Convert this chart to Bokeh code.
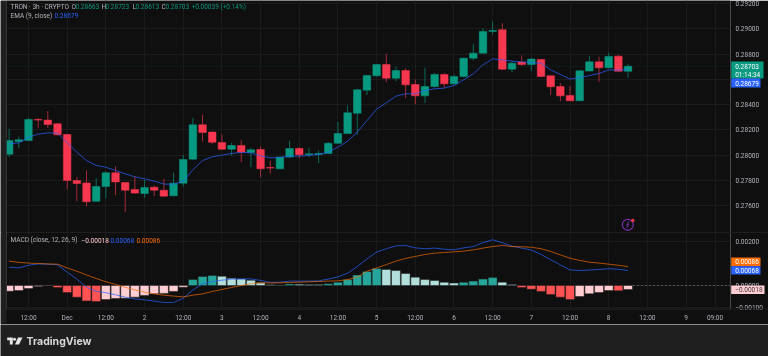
from bokeh.plotting import figure
from bokeh.layouts import column
from bokeh.models import Label, Span, FixedTicker, ColumnDataSource
from bokeh.embed import file_html
from bokeh.resources import INLINE
from bokeh.core.properties import value

# ---- data (prices in 1e-5 units) ----
bars = list(range(-2, 63))
opens = [28007,28108,28116,28282,28277,28248,28163,27799,27780,27635,27751,27860,27783,27728,27696,27746,27722,27678,27778,27968,
         28240,28182,28100,28047,28076,28021,28044,27902,27891,27984,28052,28005,28005,28013,28094,28171,28332,28514,28628,28717,
         28609,28670,28559,28469,28543,28638,28564,28622,28767,28807,28979,28992,28680,28736,28717,28757,28628,28543,28472,28430,
         28665,28738,28691,28783,28663]
highs = [28208,28147,28295,28295,28348,28253,28165,27825,27878,27817,27870,27910,27785,27833,27804,27757,27812,27862,28002,28295,
         28319,28190,28163,28097,28118,28058,28068,27957,27989,28116,28063,28060,28036,28102,28261,28393,28525,28632,28720,28802,
         28701,28686,28599,28691,28651,28651,28638,28770,28881,29005,29058,29045,28744,28789,28770,28760,28630,28570,28546,28670,
         28783,28778,28812,28794,28723]
lows = [27984,28055,28110,28216,28216,28155,27728,27635,27593,27630,27656,27683,27548,27695,27664,27675,27672,27675,27751,27965,
        28108,28087,28042,27997,27944,27904,27825,27854,27889,27976,27976,27984,27936,28010,28090,28168,28161,28475,28622,28577,
        28585,28451,28403,28411,28535,28535,28559,28617,28749,28805,28955,28678,28654,28707,28665,28617,28475,28427,28427,28427,
        28665,28580,28688,28662,28613]
closes = [28116,28121,28282,28277,28242,28161,27799,27775,27630,27751,27860,27788,27722,27699,27744,27722,27675,27778,27965,28240,
          28179,28102,28047,28076,28023,28042,27891,27897,27984,28052,28002,28010,28013,28094,28171,28335,28517,28630,28717,28609,
          28670,28556,28469,28543,28638,28564,28622,28767,28807,28979,28986,28680,28728,28717,28760,28622,28541,28469,28430,28667,
          28738,28691,28781,28663,28703]
ema = [28089,28097,28142,28166,28176,28174,28097,28023,27957,27918,27904,27878,27852,27828,27812,27794,27770,27770,27794,27883,
       27957,27986,27999,28013,28021,28018,27994,27978,27981,27992,27992,27997,28005,28023,28063,28110,28182,28274,28364,28414,
       28467,28485,28485,28512,28525,28530,28551,28596,28643,28715,28762,28754,28744,28738,28733,28728,28675,28638,28601,28614,
       28630,28646,28675,28672,28679]
macd = [83,80,92,98,97,94,61,29,-8,-26,-33,-42,-53,-61,-65,-71,-77,-77,-58,-20,
        8,17,24,29,30,30,23,14,15,20,20,20,21,29,39,56,86,121,152,167,
        180,182,171,167,170,165,162,171,177,195,208,194,179,170,161,141,117,94,71,68,
        70,73,76,74,68]
signal = [111,105,102,100,98,97,80,65,48,32,17,5,-8,-20,-30,-38,-44,-48,-52,-44,
          -38,-27,-18,-9,0,8,12,12,12,14,15,17,18,20,21,27,38,65,80,95,
          111,123,132,141,147,150,153,156,162,170,177,182,177,176,174,167,155,139,124,114,
          106,102,97,92,86]
hist = [-26,-23,-14,-5,-2,-9,-32,-53,-70,-73,-64,-59,-58,-53,-45,-38,-36,-27,-8,27,
        41,45,42,33,30,24,12,3,2,7,6,5,4,8,15,27,48,64,77,73,
        68,55,38,27,23,15,11,15,20,29,36,15,5,-9,-17,-27,-41,-53,-64,-50,
        -38,-32,-23,-24,-18]
x_ticks = [0,4,8,12,16,20,24,28,32,36,40,44,48,52,56,60,64,68,71]
x_labels = ["12:00","Dec","12:00","2","12:00","3","12:00","4","12:00","5","12:00","6","12:00","7","12:00","8","12:00","9","09:00"]
price_ticks = [0.292,0.290,0.288,0.286,0.284,0.282,0.280,0.278,0.276]
macd_ticks = [0.002,0.0,-0.001]
macd_tick_labels = ["0.00200","0.00000","\u22120.00100"]
tag_texts = ["0.28703","01:14:34","0.28679","0.00086","0.00068","\u22120.00018"]

BG = "#0f0f0f"; BAND = "#1f1f1f"; GRID = "#1b1b1b"; TXT = "#b2b5be"
UP = "#089981"; DOWN = "#f7374f"; BLUE = "#2962ff"; ORANGE = "#ff6d00"; PINK = "#ffcdd2"
FONT = "Roboto"; FS = "6.5px"

sc = 1e-5
X0, STEP = 28.0, 9.67          # pixel of bar 0, bar spacing
def xr(px): return (px - X0) / STEP
def base(h, yr, below):
    p = figure(width=768, height=h, frame_width=724, frame_height=(232 if not below else 77),
               x_range=(xr(6), xr(730)), y_range=yr, output_backend="svg", toolbar_location=None,
               min_border_left=6, min_border_right=38, min_border_top=0, min_border_bottom=(14 if below else 0),
               background_fill_color=BG, border_fill_color=BG, outline_line_color=None,
               x_axis_location=("below" if below else None), y_axis_location="right")
    p.xgrid.ticker = FixedTicker(ticks=x_ticks)
    p.xgrid.grid_line_color = GRID
    p.ygrid.grid_line_color = GRID
    ax = p.yaxis[0]
    ax.axis_line_color = None; ax.major_tick_line_color = None; ax.minor_tick_line_color = None
    ax.major_tick_out = 0; ax.major_tick_in = 0
    ax.major_label_text_color = TXT; ax.major_label_text_font = FONT; ax.major_label_text_font_size = FS
    ax.major_label_standoff = 5
    return p

def lbl(p, H, x, y, text, color, size=FS):
    p.add_layout(Label(x=x - 6, y=H - y, x_units="screen", y_units="screen", text=text, text_color=color,
                       text_font=FONT, text_font_size=size, text_baseline="middle"))

def pixel_fig(h, yr, bg, alpha):
    p = figure(width=768, height=h, frame_width=768, frame_height=h, x_range=(0, 768), y_range=yr,
               output_backend="svg", toolbar_location=None,
               min_border_left=0, min_border_right=0, min_border_top=0, min_border_bottom=0,
               background_fill_color=bg, background_fill_alpha=alpha, border_fill_color=bg, border_fill_alpha=alpha,
               outline_line_color=None, x_axis_location=None, y_axis_location=None)
    p.grid.visible = False
    p.frame_align = False
    return p

# ---- price pane ----
PS = 12633.0
p1 = base(232, (0.292 - 229/PS, 0.292 + 3/PS), False)
p1.yaxis[0].ticker = FixedTicker(ticks=price_ticks)
p1.yaxis[0].major_label_overrides = {t: f"{t:.5f}" for t in price_ticks}
p1.ygrid.ticker = FixedTicker(ticks=price_ticks)
O = [v*sc for v in opens]; H_ = [v*sc for v in highs]; L = [v*sc for v in lows]; C = [v*sc for v in closes]
cols = [UP if c >= o else DOWN for o, c in zip(opens, closes)]
src = ColumnDataSource(dict(x=bars, o=O, h=H_, l=L, c=C, col=cols,
                            top=[max(a, b) for a, b in zip(O, C)], bot=[min(a, b) for a, b in zip(O, C)]))
p1.add_layout(Span(location=closes[-1]*sc, dimension="width", line_color=UP, line_alpha=0.3, line_dash="1 2", line_width=1))
p1.segment("x", "h", "x", "l", source=src, line_color="col", line_alpha=0.65, line_width=1)
p1.vbar("x", width=0.78, top="top", bottom="bot", source=src, fill_color="col", line_color="col", line_width=0.5)
p1.line(bars, [v*sc for v in ema], line_color=BLUE, line_width=0.9, line_alpha=0.8)

lbl(p1, 232, 10, 6.3, "TRON \u00b7 3h \u00b7 CRYPTO", TXT)
for xx, t, in [(71, "O"), (101, "H"), (132, "L"), (161, "C")]:
    lbl(p1, 232, xx, 6.3, t, TXT)
for xx, t in [(75, "0.28663"), (105, "0.28723"), (135, "0.28613"), (165, "0.28703"), (191, "+0.00039 (+0.14%)")]:
    lbl(p1, 232, xx, 6.3, t, UP)
lbl(p1, 232, 10, 15.3, "EMA (9, close)", TXT)
lbl(p1, 232, 54, 15.3, "0.28679", BLUE)

# lightning icon
def yr1(py): return 0.292 - (py - 3) / PS
p1.scatter([xr(627.3)], [yr1(224.3)], size=11, marker="circle", fill_color=None, line_color="#7b2fb0", line_width=1.2)
p1.line([xr(628.5), xr(626.3), xr(628.2), xr(626)], [yr1(220.8), yr1(224.6), yr1(224), yr1(227.6)], line_color="#7b2fb0", line_width=1)
p1.scatter([xr(632.3)], [yr1(220)], size=3.5, marker="circle", fill_color="#f23645", line_color=None)

# ---- MACD pane ----
MS = 22000.0
p2 = base(91, (0.0 - 24/MS, 0.0 + 53/MS), True)
p2.yaxis[0].ticker = FixedTicker(ticks=macd_ticks)
p2.yaxis[0].major_label_overrides = dict(zip(macd_ticks, macd_tick_labels))
p2.ygrid.ticker = FixedTicker(ticks=macd_ticks)
ax = p2.xaxis[0]
ax.ticker = FixedTicker(ticks=x_ticks)
ax.major_label_overrides = dict(zip(x_ticks, x_labels))
ax.axis_line_color = GRID; ax.major_tick_line_color = None; ax.minor_tick_line_color = None
ax.major_tick_out = 0; ax.major_tick_in = 0
ax.major_label_text_color = TXT; ax.major_label_text_font = FONT; ax.major_label_text_font_size = FS
ax.major_label_standoff = 4
hc = []
for i, v in enumerate(hist):
    prev = hist[i-1] if i else v
    if v >= 0: hc.append("#26a69a" if v > prev else "#b2dfdb")
    else: hc.append("#ff5252" if v < prev else "#ffcdd2")
p2.vbar(bars, width=0.92, top=[v*sc for v in hist], bottom=0, fill_color=hc, line_color="#1a1a1a", line_width=0.5)
p2.segment([bars[-1] + 0.5], [0], [xr(730)], [0], line_color="#6a6a6a", line_dash="2 2", line_width=0.8)
p2.line(bars, [v*sc for v in macd], line_color=BLUE, line_width=0.9, line_alpha=0.8)
p2.line(bars, [v*sc for v in signal], line_color=ORANGE, line_width=0.9, line_alpha=0.75)

lbl(p2, 77, 10, 7.7, "MACD (close, 12, 26, 9)", TXT)
lbl(p2, 77, 81, 7.7, "\u22120.00018", PINK)
lbl(p2, 77, 110, 7.7, "0.00068", BLUE)
lbl(p2, 77, 136, 7.7, "0.00086", ORANGE)

# ---- footer with logo ----
p3 = pixel_fig(33, (356, 323), BAND, 1)
p3.patch([6.7, 12.3, 12.3, 9.3, 9.3, 6.7], [336, 336, 343, 343, 338.7, 338.7], fill_color="#e6e6e6", line_color=None)
p3.scatter([14], [337.7], size=3, marker="circle", fill_color="#e6e6e6", line_color=None)
p3.patch([17.5, 22, 18.5, 14.5], [336, 336, 343, 343], fill_color="#e6e6e6", line_color=None)
p3.text([26], [340], text=["TradingView"], text_color="#d8d8d8", text_font=value("Inter"), text_font_size="10.5px",
        text_font_style="bold", text_baseline="middle")

# ---- transparent overlay: left strip, pane separators, last-value tags ----
ov = pixel_fig(356, (356, 0), BG, 0)
ov.quad(left=[0], right=[6], top=[0], bottom=[323], fill_color=BAND, line_color=None)
ov.segment([6, 6], [232, 308.5], [768, 768], [232, 308.5], line_color=BAND, line_width=1)
ov.quad(left=[730.7]*5, right=[763, 760, 760, 760, 764], top=[61, 78, 257, 265.7, 285], bottom=[78, 87, 265.7, 274, 293.5],
        fill_color=[UP, BLUE, ORANGE, BLUE, PINK], line_color=None)
ov.text([734.7]*6, [66, 74, 82.7, 261.3, 270, 289.3], text=tag_texts, text_font=value(FONT), text_font_size=FS,
        text_baseline="middle", text_color=["#ffffff", "#ffffff", "#ffffff", "#ffffff", "#ffffff", "#3a3a3a"])
ov.styles = {"position": "fixed", "left": "0", "top": "0"}

layout = column(p1, p2, p3, ov, spacing=0)
layout.styles = {"position": "fixed", "left": "0", "top": "0"}
open("out.html", "w").write(file_html(layout, INLINE))
